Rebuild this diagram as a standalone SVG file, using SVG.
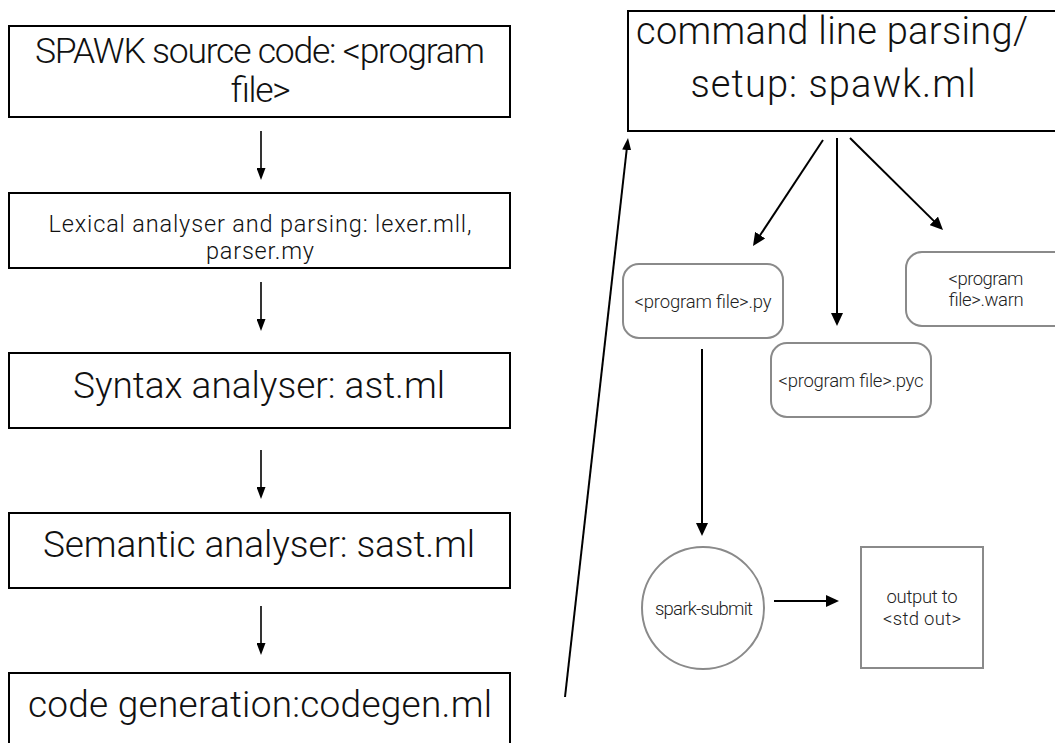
<svg xmlns="http://www.w3.org/2000/svg" width="1055" height="743" viewBox="0 0 1055 743">
  <defs>
    <style>
      .box { fill: #ffffff; stroke: #000000; stroke-width: 2; }
      .soft { fill: #ffffff; stroke: #8a8a8a; stroke-width: 2; }
      .t { font-family: "Roboto", "Liberation Sans", Arial, sans-serif; font-weight: 300; fill: #111111; text-anchor: middle; }
      .big { font-size: 37px; }
      .first { font-size: 35.5px; }
      .mid { font-size: 23.5px; }
      .cmd { font-size: 38px; }
      .small { font-size: 18.5px; fill: #222222; }
      .edge { fill: none; stroke: #000000; }
      .thin { stroke-width: 1.6; }
      .thick { stroke-width: 2; }
    </style>
    <marker id="headS" markerUnits="userSpaceOnUse" markerWidth="12" markerHeight="9" refX="4" refY="4.5" orient="auto">
      <path d="M0,0 L12,4.5 L0,9 z" fill="#000000"/>
    </marker>
    <marker id="headL" markerUnits="userSpaceOnUse" markerWidth="13" markerHeight="12" refX="5" refY="6" orient="auto">
      <path d="M0,0 L13,6 L0,12 z" fill="#000000"/>
    </marker>
  </defs>

  <rect width="1055" height="743" fill="#ffffff"/>

  <!-- compiler pipeline, left column -->
  <g id="source">
    <rect class="box" x="9" y="26" width="501" height="91"/>
    <text class="t first" x="260" y="63" textLength="450" lengthAdjust="spacing">SPAWK source code: &lt;program</text>
    <text class="t first" x="260" y="102" textLength="60" lengthAdjust="spacing">file&gt;</text>
  </g>

  <g id="lexer">
    <rect class="box" x="9" y="193" width="501" height="75"/>
    <text class="t mid" x="260" y="232" textLength="423" lengthAdjust="spacing">Lexical analyser and parsing: lexer.mll,</text>
    <text class="t mid" x="260" y="259" textLength="108" lengthAdjust="spacing">parser.my</text>
  </g>

  <g id="syntax">
    <rect class="box" x="9" y="353" width="501" height="75"/>
    <text class="t big" x="259" y="398" textLength="372" lengthAdjust="spacing">Syntax analyser: ast.ml</text>
  </g>

  <g id="semantic">
    <rect class="box" x="9" y="513" width="501" height="75"/>
    <text class="t big" x="259" y="557" textLength="432" lengthAdjust="spacing">Semantic analyser: sast.ml</text>
  </g>

  <g id="codegen">
    <rect class="box" x="9" y="673" width="501" height="80"/>
    <text class="t big" x="260" y="717" textLength="464" lengthAdjust="spacing">code generation:codegen.ml</text>
  </g>

  <!-- driver and generated artefacts, right side -->
  <g id="driver">
    <rect class="box" x="628" y="11" width="440" height="120"/>
    <text class="t cmd" x="832" y="44" textLength="392" lengthAdjust="spacing">command line parsing/</text>
    <text class="t cmd" x="833" y="97" textLength="285" lengthAdjust="spacing">setup: spawk.ml</text>
  </g>

  <g id="py">
    <rect class="soft" x="623" y="264" width="160" height="74" rx="16" ry="16"/>
    <text class="t small" x="703" y="308" textLength="137" lengthAdjust="spacing">&lt;program file&gt;.py</text>
  </g>

  <g id="pyc">
    <rect class="soft" x="771" y="343" width="160" height="74" rx="16" ry="16"/>
    <text class="t small" x="851" y="387" textLength="145" lengthAdjust="spacing">&lt;program file&gt;.pyc</text>
  </g>

  <g id="warn">
    <rect class="soft" x="906" y="252" width="170" height="74" rx="16" ry="16"/>
    <text class="t small" x="986" y="285" textLength="75" lengthAdjust="spacing">&lt;program</text>
    <text class="t small" x="986" y="306" textLength="75" lengthAdjust="spacing">file&gt;.warn</text>
  </g>

  <g id="spark">
    <circle class="soft" cx="703" cy="608" r="61"/>
    <text class="t small" x="704" y="615" textLength="98" lengthAdjust="spacing">spark-submit</text>
  </g>

  <g id="output">
    <rect class="soft" x="861" y="547" width="122" height="121"/>
    <text class="t small" x="922" y="603" textLength="71" lengthAdjust="spacing">output to</text>
    <text class="t small" x="922" y="625" textLength="78" lengthAdjust="spacing">&lt;std out&gt;</text>
  </g>

  <!-- connectors -->
  <g id="connectors">
    <line class="edge thin" x1="261" y1="131" x2="261" y2="172" marker-end="url(#headS)"/>
    <line class="edge thin" x1="261" y1="282" x2="261" y2="323" marker-end="url(#headS)"/>
    <line class="edge thin" x1="261" y1="450" x2="261" y2="491" marker-end="url(#headS)"/>
    <line class="edge thin" x1="261" y1="606" x2="261" y2="647" marker-end="url(#headS)"/>
    <line class="edge thick" x1="565" y1="697" x2="627.1" y2="146" marker-end="url(#headS)"/>
    <line class="edge thick" x1="823" y1="140" x2="757.4" y2="239.3" marker-end="url(#headL)"/>
    <line class="edge thick" x1="837" y1="138" x2="837" y2="318" marker-end="url(#headL)"/>
    <line class="edge thick" x1="850" y1="138" x2="937.3" y2="224.4" marker-end="url(#headL)"/>
    <line class="edge thick" x1="702" y1="349" x2="702" y2="528" marker-end="url(#headL)"/>
    <line class="edge thick" x1="774" y1="601" x2="831" y2="601" marker-end="url(#headL)"/>
  </g>
</svg>
